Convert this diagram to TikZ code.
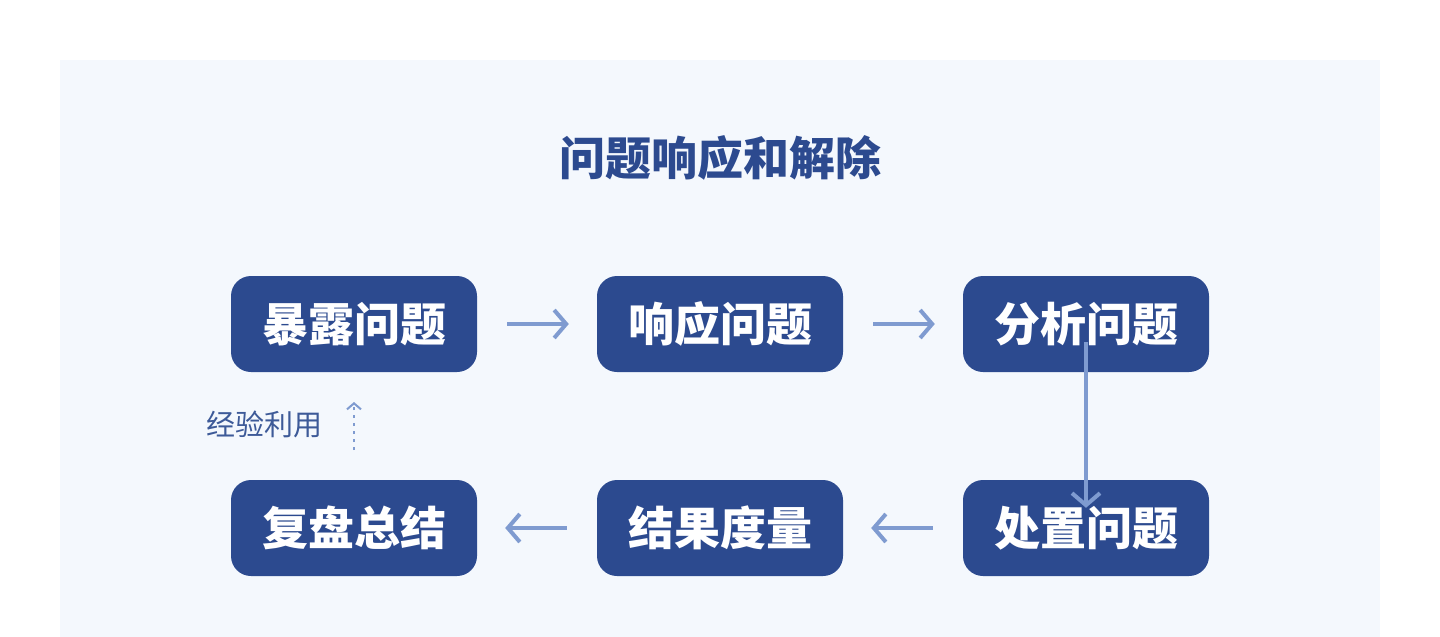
\documentclass[tikz,border=0pt]{standalone}
\usepackage{fontspec}
\setmainfont{Noto Sans CJK SC}
\usetikzlibrary{arrows.meta}
\definecolor{bgc}{HTML}{F4F8FD}
\definecolor{boxc}{HTML}{2C4A8F}
\definecolor{arc}{HTML}{7F9BD0}
\definecolor{lblc}{HTML}{3D5A98}
\tikzset{
 stepbox/.style={fill=boxc,rounded corners=20pt,minimum width=246pt,minimum height=96pt,text=white,font=\fontsize{46}{50}\selectfont\bfseries,inner sep=0pt},
 flow/.style={draw=arc,line width=4pt,-{Straight Barb[length=12pt,width=28pt,line width=4pt]}},
}
\begin{document}
\begin{tikzpicture}[x=1pt,y=-1pt]
\useasboundingbox (0,0) rectangle (1440,637);
\fill[white] (0,0) rectangle (1440,637);
\fill[bgc] (60,60) rectangle (1380,637);
\node[text=boxc,font=\fontsize{46}{50}\selectfont\bfseries] (title) at (720,158) {问题响应和解除};
\node[stepbox] (a) at (354,324) {暴露问题};
\node[stepbox] (b) at (720,324) {响应问题};
\node[stepbox] (c) at (1086,324) {分析问题};
\node[stepbox] (d) at (1086,528) {处置问题};
\node[stepbox] (e) at (720,528) {结果度量};
\node[stepbox] (f) at (354,528) {复盘总结};
\draw[flow] ([xshift=30pt]a.east) -- ([xshift=-28pt]b.west);
\draw[flow] ([xshift=30pt]b.east) -- ([xshift=-28pt]c.west);
\draw[flow] ([yshift=30pt]c.south) -- ([yshift=-28pt]d.north);
\draw[flow] ([xshift=-30pt]d.west) -- ([xshift=28pt]e.east);
\draw[flow] ([xshift=-30pt]e.west) -- ([xshift=28pt]f.east);
\coordinate (p1) at (354,450);
\coordinate (p2) at (354,402);
\draw[draw=arc,line width=2pt,dash pattern=on 3pt off 5pt,-{Straight Barb[length=6pt,width=14pt,line width=2pt]}] (p1) -- (p2);
\node[text=lblc,font=\fontsize{29}{32}\selectfont] (lbl) at (264,424) {经验利用};
\end{tikzpicture}
\end{document}
